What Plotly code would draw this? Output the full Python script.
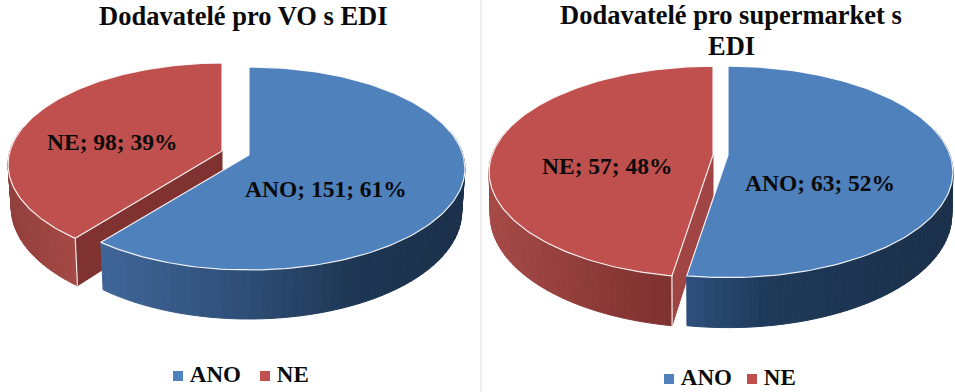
import numpy as np
import plotly.graph_objects as go

categories = ["ANO", "NE"]
values_vo = [151, 98]
values_supermarket = [63, 57]
title_vo = ["Dodavatelé pro VO s EDI"]
title_supermarket = ["Dodavatelé pro supermarket s", "EDI"]

TOP = {"ANO": "#4f81bd", "NE": "#c0504d"}
SERIF = "Liberation Serif"
INK = "#0a0a0a"

panels = [
    dict(values=values_vo, title=title_vo, title_xy=(243, 16),
         apex={"ANO": (249, 155), "NE": (222, 151)},
         a={"ANO": 214, "NE": 212}, b=99.7, k=0.133, h=42.5, shrink=0.985,
         labels={"ANO": (326, 189), "NE": (112, 142)},
         legend=[(178, 376), (265, 376)],
         side={"ANO": [(0.0, (64, 102, 152)), (0.4, (46, 78, 118)), (0.68, (31, 56, 86)), (1.0, (27, 48, 74))],
               "NE": [(0.0, (146, 64, 61)), (1.0, (166, 74, 70))]},
         wall="#7f3230"),
    dict(values=values_supermarket, title=title_supermarket, title_xy=(731, 15),
         apex={"ANO": (728, 155), "NE": (713, 155)},
         a={"ANO": 222, "NE": 221}, b=103, k=0.16, h=42, shrink=0.995,
         labels={"ANO": (820, 183), "NE": (607, 166)},
         legend=[(669, 379), (752, 379)],
         side={"ANO": [(0.0, (46, 80, 124)), (0.3, (31, 58, 90)), (1.0, (27, 48, 74))],
               "NE": [(0.0, (166, 75, 72)), (0.7, (136, 56, 53)), (1.0, (128, 50, 48))]},
         wall="#a04544"),
]


def project(p, cat, theta, lower=False):
    """Clockwise angle from 12 o'clock on a tilted disc, to page pixels."""
    x0, y0 = p["apex"][cat]
    u, v = np.sin(theta), -np.cos(theta)
    s = 1 / (1 - p["k"] * v)
    x, y = p["a"][cat] * u * s, p["b"] * v * s
    if lower:
        return x0 + x * p["shrink"], y0 + y + p["h"] * s
    return x0 + x, y0 + y


def apex(p, cat, lower=False):
    x0, y0 = p["apex"][cat]
    return x0, y0 + (p["h"] if lower else 0)


def ramp(stops, f):
    for (f0, c0), (f1, c1) in zip(stops, stops[1:]):
        if f <= f1:
            t = (f - f0) / (f1 - f0)
            return "rgb(%d,%d,%d)" % tuple(c0[i] + (c1[i] - c0[i]) * t for i in range(3))
    return "rgb(%d,%d,%d)" % stops[-1][1]


def poly(xs, ys, fill, line=None, width=1):
    return go.Scatter(x=list(xs), y=list(ys), mode="lines", fill="toself", fillcolor=fill,
                      line=dict(color=line or fill, width=width), hoverinfo="skip", showlegend=False)


def outline(xs, ys, color="rgba(255,255,255,0.9)", width=1.2):
    return go.Scatter(x=list(xs), y=list(ys), mode="lines", line=dict(color=color, width=width),
                      hoverinfo="skip", showlegend=False)


fig = go.Figure()
annotations = []

for p in panels:
    total = sum(p["values"])
    angles = np.cumsum([0] + p["values"]) / total * 2 * np.pi
    spans = dict(zip(categories, zip(angles[:-1], angles[1:])))

    # Far slice first, so that the near slice covers its inner wall.
    for cat in ["NE", "ANO"]:
        t0, t1 = spans[cat]
        front0 = max(t0, np.pi * 0.42)
        front1 = min(t1, np.pi * 1.58)
        edges = np.linspace(front0, front1, 60)
        ex = project(p, cat, edges)[0]
        for i in range(len(edges) - 1):
            a_, b_ = edges[i], edges[i + 1]
            xa, ya = project(p, cat, a_)
            xb, yb = project(p, cat, b_)
            xc, yc = project(p, cat, b_, True)
            xd, yd = project(p, cat, a_, True)
            f = (0.5 * (xa + xb) - ex.min()) / (ex.max() - ex.min())
            fig.add_trace(poly([xa, xb, xc, xd, xa], [ya, yb, yc, yd, ya], ramp(p["side"][cat], f)))
        if cat == "NE":
            ax, ay = apex(p, cat)
            bx, by = apex(p, cat, True)
            cx, cy = project(p, cat, t0)
            dx, dy = project(p, cat, t0, True)
            fig.add_trace(poly([ax, cx, dx, bx, ax], [ay, cy, dy, by, ay], p["wall"]))
            fig.add_trace(outline([cx, dx], [cy, dy]))
        arc = np.linspace(t0, t1, 160)
        xs, ys = project(p, cat, arc)
        ax, ay = apex(p, cat)
        fig.add_trace(poly(np.r_[ax, xs, ax], np.r_[ay, ys, ay], TOP[cat], "rgba(255,255,255,0.9)", 1.2))

    for cat, val in zip(categories, p["values"]):
        x, y = p["labels"][cat]
        annotations.append(dict(x=x, y=y, text=f"<b>{cat}; {val}; {round(val / total * 100)}%</b>",
                                showarrow=False, font=dict(family=SERIF, size=23.5, color=INK)))

    tx, ty = p["title_xy"]
    for n, line in enumerate(p["title"]):
        annotations.append(dict(x=tx, y=ty + 31 * n, text=f"<b>{line}</b>", showarrow=False,
                                font=dict(family=SERIF, size=26.5, color=INK)))

    lx, ly = zip(*p["legend"])
    fig.add_trace(go.Scatter(x=list(lx), y=list(ly), mode="markers+text", text=categories,
                             textposition="middle right",
                             texttemplate="<b>\u2009%{text}</b>",
                             textfont=dict(family=SERIF, size=23, color=INK),
                             marker=dict(symbol="square", size=10, color=[TOP[c] for c in categories]),
                             hoverinfo="skip", showlegend=False, cliponaxis=False))

fig.update_layout(
    width=955, height=392, margin=dict(l=0, r=0, t=0, b=0),
    paper_bgcolor="white", plot_bgcolor="white", showlegend=False,
    xaxis=dict(range=[0, 955], visible=False, fixedrange=True),
    yaxis=dict(range=[392, 0], visible=False, fixedrange=True),
    annotations=annotations,
    shapes=[dict(type="line", x0=481, x1=481, y0=0, y1=392, line=dict(color="#dcdcdc", width=1))],
)
fig.write_html("out.html", config={"displayModeBar": False},
               post_script="document.body.style.margin='0';document.documentElement.style.overflow='hidden';")
